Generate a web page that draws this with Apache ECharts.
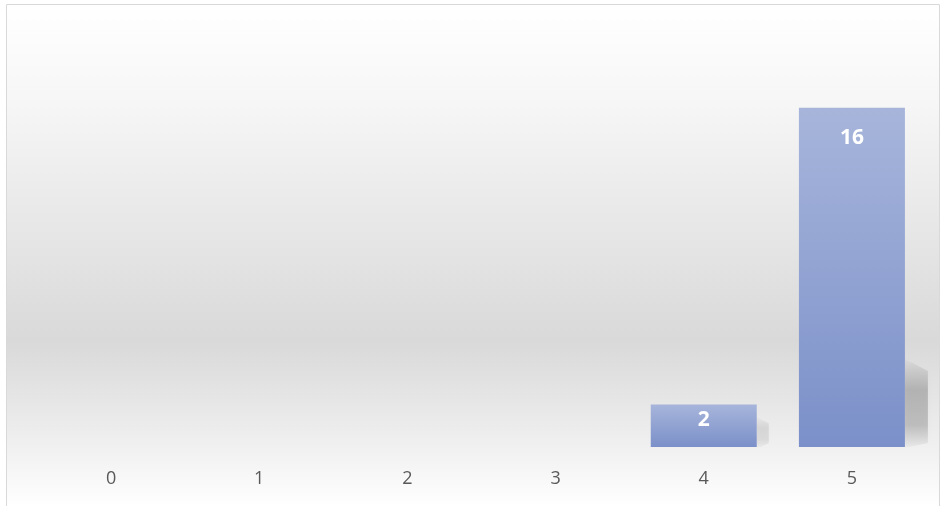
<!DOCTYPE html>
<html>
<head>
<meta charset="utf-8">
<script src="https://cdn.jsdelivr.net/npm/echarts@6/dist/echarts.min.js"></script>
<style>
html,body{margin:0;padding:0;background:#fff;}
#c{width:943px;height:506px;}
</style>
</head>
<body>
<div id="c"></div>
<script>
var categories = ['0', '1', '2', '3', '4', '5'];
var values = [0, 0, 0, 0, 2, 16];

var chart = echarts.init(document.getElementById('c'), null, {renderer: 'canvas'});

var barGradient = new echarts.graphic.LinearGradient(0, 0, 0, 1, [
  {offset: 0, color: '#a7b5db'},
  {offset: 1, color: '#7b90c9'}
]);

var dataItems = values.map(function (v, i) {
  var item = {value: v};
  if (v === 0) {
    item.label = {show: false};
  } else if (v < 4) {
    item.label = {distance: 5};
  }
  return item;
});

var BAR_W = 106;

function renderShadow(params, api) {
  var v = api.value(1);
  if (!v) return null;
  var base = api.coord([api.value(0), 0]);
  var top = api.coord([api.value(0), v]);
  var h = base[1] - top[1];
  var right = base[0] + BAR_W / 2;
  var small = h < 60;
  var hs = Math.min(h * 0.7, 88);
  var ws = small ? 12 : 23;
  var a = small ? 0.09 : 0.2;
  return {
    type: 'polygon',
    shape: {
      points: [
        [right, base[1] - hs],
        [right + ws, base[1] - hs + (small ? 6 : 12)],
        [right + ws, base[1] - 4],
        [right + 4, base[1]],
        [right, base[1]]
      ]
    },
    style: {
      fill: new echarts.graphic.LinearGradient(0, 0, 0, 1, [
        {offset: 0, color: 'rgba(0,0,0,0.02)'},
        {offset: 0.35, color: 'rgba(0,0,0,' + a + ')'},
        {offset: 0.75, color: 'rgba(0,0,0,' + (a * 0.9) + ')'},
        {offset: 1, color: 'rgba(0,0,0,0.03)'}
      ]),
      shadowBlur: small ? 10 : 6,
      shadowColor: 'rgba(0,0,0,' + (small ? 0.1 : 0.12) + ')'
    },
    silent: true
  };
}

var option = {
  animation: false,
  backgroundColor: '#ffffff',
  graphic: [{
    type: 'rect',
    z: -10,
    silent: true,
    shape: {x: 6.5, y: 4.5, width: 933, height: 502},
    style: {
      fill: new echarts.graphic.LinearGradient(0, 0, 0, 1, [
        {offset: 0, color: '#ffffff'},
        {offset: 0.2, color: '#f6f6f6'},
        {offset: 0.67, color: '#d9d9d9'},
        {offset: 0.88, color: '#f0f0f0'},
        {offset: 1, color: '#ffffff'}
      ]),
      stroke: '#d9d9d9',
      lineWidth: 1
    }
  }],
  grid: {left: 37, right: 17, top: 23, bottom: 59, containLabel: false},
  xAxis: {
    type: 'category',
    data: categories,
    axisLine: {show: false},
    axisTick: {show: false},
    axisLabel: {
      color: '#595959',
      fontSize: 18,
      fontFamily: 'Open Sans, Noto Sans, sans-serif',
      margin: 23
    }
  },
  yAxis: {
    type: 'value',
    min: 0,
    max: 20,
    show: false,
    splitLine: {show: false}
  },
  series: [{
    type: 'custom',
    renderItem: renderShadow,
    data: values.map(function (v, i) { return [i, v]; }),
    z: 1,
    silent: true
  }, {
    type: 'bar',
    data: dataItems,
    barWidth: BAR_W,
    z: 2,
    itemStyle: {
      color: barGradient
    },
    label: {
      show: true,
      position: 'insideTop',
      distance: 20,
      color: '#ffffff',
      fontSize: 21,
      fontWeight: 'bold',
      fontFamily: 'Open Sans, Noto Sans, sans-serif'
    }
  }]
};
chart.setOption(option);
</script>
</body>
</html>
